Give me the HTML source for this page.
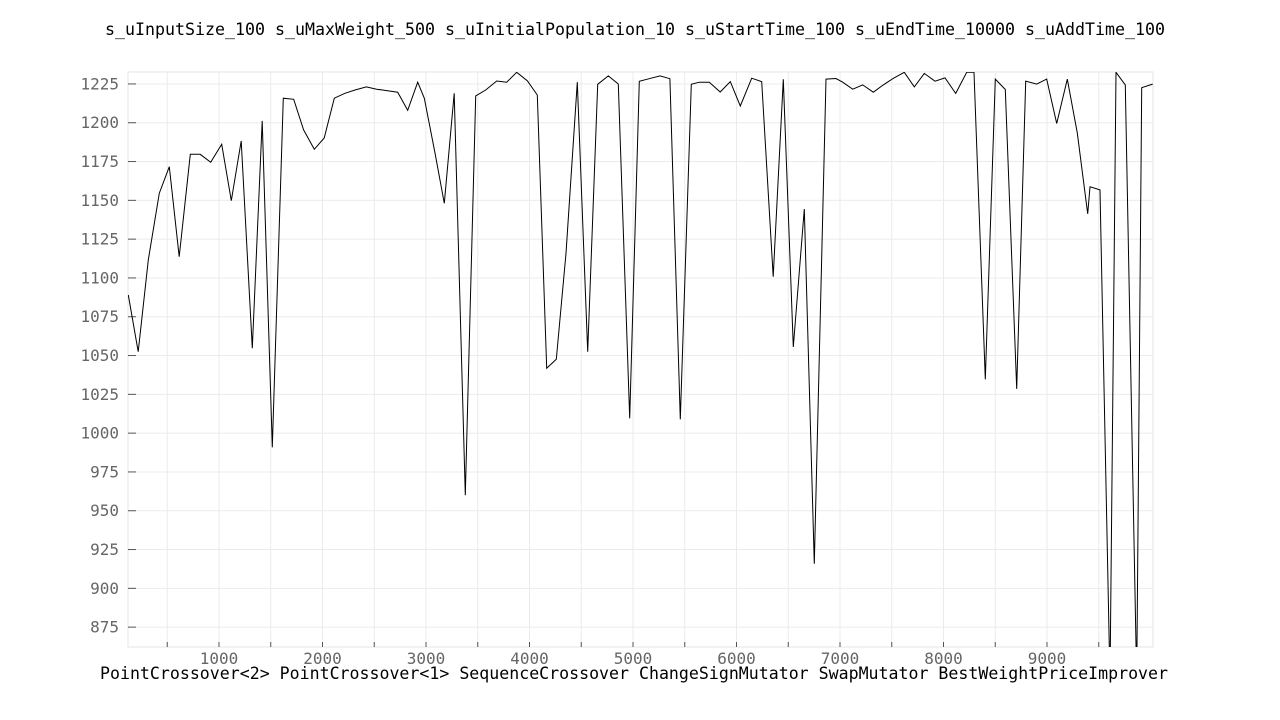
<!DOCTYPE html>
<html><head><meta charset="utf-8"><style>
html,body{margin:0;padding:0;background:#fff;}
svg{display:block;font-family:"DejaVu Sans Mono","Liberation Mono",monospace;}
</style></head><body>
<svg id="chart" width="1280" height="720" viewBox="0 0 1280 720" xmlns="http://www.w3.org/2000/svg">
<text x="635" y="35" text-anchor="middle" font-size="16.6" fill="#000" textLength="1060" lengthAdjust="spacingAndGlyphs">s_uInputSize_100 s_uMaxWeight_500 s_uInitialPopulation_10 s_uStartTime_100 s_uEndTime_10000 s_uAddTime_100</text>
<g id="grid"></g>
<g id="axes"></g>
<g id="series"></g>
<text x="634" y="679" text-anchor="middle" font-size="16.6" fill="#000" textLength="1068" lengthAdjust="spacingAndGlyphs">PointCrossover&lt;2&gt; PointCrossover&lt;1&gt; SequenceCrossover ChangeSignMutator SwapMutator BestWeightPriceImprover</text>
</svg>
<script>
const xValues=[124,220,317,423,520,616,723,819,920,1026,1119,1215,1322,1418,1515,1621,1722,1818,1921,2017,2114,2217,2314,2423,2524,2620,2727,2823,2920,2984,3087,3177,3273,3380,3480,3577,3683,3780,3876,3979,4075,4166,4259,4353,4462,4562,4659,4761,4858,4968,5061,5157,5261,5357,5457,5563,5641,5737,5843,5940,6037,6147,6243,6355,6452,6549,6655,6752,6865,6961,7026,7123,7219,7322,7418,7522,7621,7718,7814,7918,8014,8118,8224,8295,8404,8500,8597,8707,8794,8900,8997,9094,9196,9293,9393,9415,9512,9609,9667,9756,9867,9915,10021];
const yValues=[1089,1052.5,1111.6,1154.6,1171.7,1113.7,1179.7,1179.7,1174.5,1186.1,1149.8,1188.3,1054.7,1201.2,990.9,1215.8,1215.1,1195.4,1182.9,1190.2,1215.8,1219,1221.1,1223.1,1221.6,1220.7,1219.7,1208,1226.1,1215.8,1180.5,1148.1,1219,960,1217.3,1221.1,1226.9,1226.1,1232.5,1227.1,1217.9,1041.8,1047.6,1115.9,1226.1,1052.5,1224.8,1230.2,1225,1009.5,1226.7,1228.4,1230.2,1228.4,1008.9,1224.8,1226.1,1226.1,1219.8,1226.5,1210.8,1228.7,1226.5,1100.8,1228,1055.5,1144.4,915.8,1228.1,1228.5,1226.1,1221.6,1224.4,1219.7,1224.4,1228.9,1232.5,1223.1,1231.8,1226.8,1228.9,1218.9,1232.5,1232.5,1034.7,1228.1,1221.4,1028.6,1226.8,1224.9,1228.1,1199.5,1228.1,1193.4,1141.3,1158.7,1156.7,840,1232.5,1224.4,840,1222.6,1224.9];
const yTicks=[875,900,925,950,975,1000,1025,1050,1075,1100,1125,1150,1175,1200,1225];
const xTicks=[1000,2000,3000,4000,5000,6000,7000,8000,9000];
const xGrid=[500,1000,1500,2000,2500,3000,3500,4000,4500,5000,5500,6000,6500,7000,7500,8000,8500,9000,9500];
const L=128,R=1153,T=72,B=647;
const X0=121,X1=10024,Y0=862.2,Y1=1232.7;
const sx=v=>L+(v-X0)/(X1-X0)*(R-L);
const sy=v=>B-(v-Y0)/(Y1-Y0)*(B-T);
const NS="http://www.w3.org/2000/svg";
function mk(tag,attrs,parent){const e=document.createElementNS(NS,tag);for(const k in attrs)e.setAttribute(k,attrs[k]);parent.appendChild(e);return e;}
const grid=document.getElementById('grid'),axes=document.getElementById('axes'),series=document.getElementById('series');
yTicks.forEach(t=>{const y=sy(t);
 const g=mk('line',{x1:L,x2:R,y1:y,y2:y,stroke:'#ebebeb','stroke-width':1},grid);
 
 
 const tk=mk('line',{x1:L,x2:L+8,y1:y,y2:y,stroke:'#555','stroke-width':1},axes);
 
 
 const tx=mk('text',{x:119,y:y+5.5,'text-anchor':'end','font-size':16,fill:'#666'},axes);
 
 
 tx.textContent=t;});
xGrid.forEach(t=>{const x=sx(t);
 const g=mk('line',{x1:x,x2:x,y1:T,y2:B,stroke:'#ebebeb','stroke-width':1},grid);
 
 
 const tk=mk('line',{x1:x,x2:x,y1:B,y2:B-5,stroke:'#555','stroke-width':1},axes);
 
 });
xTicks.forEach(t=>{const tx=mk('text',{x:sx(t),y:664,'text-anchor':'middle','font-size':16,fill:'#666'},axes);
 
 
 tx.textContent=t;});
const fr=mk('rect',{x:L,y:T,width:R-L,height:B-T,fill:'none',stroke:'#e6e6e6','stroke-width':1},grid);


const cp=mk('clipPath',{id:'clip'},series);mk('rect',{x:L,y:T,width:R-L,height:B-T},cp);
const pts=xValues.map((x,i)=>sx(x).toFixed(1)+','+sy(yValues[i]).toFixed(1)).join(' ');
const pl=mk('polyline',{points:pts,fill:'none',stroke:'#000','stroke-width':1,'clip-path':'url(#clip)'},series);


</script>
</body></html>
